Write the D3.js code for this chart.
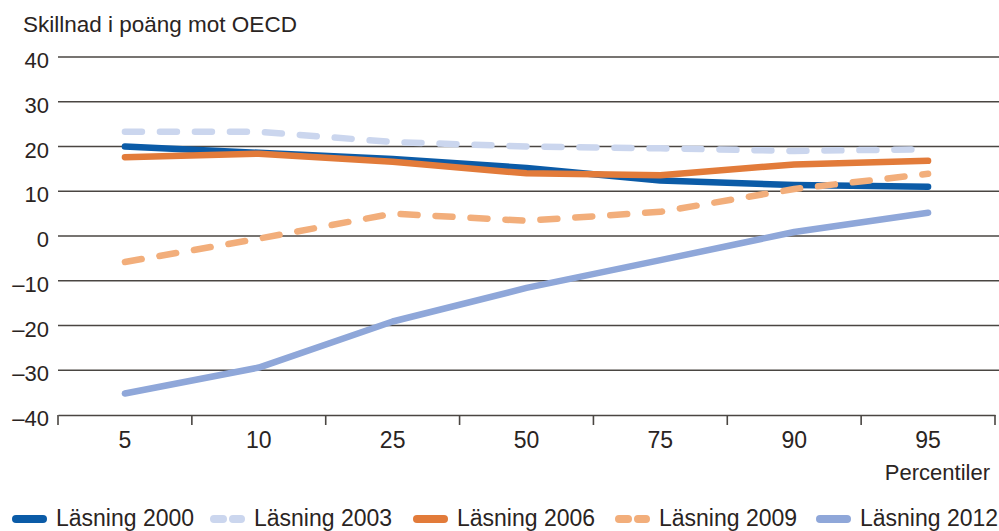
<!DOCTYPE html>
<html>
<head>
<meta charset="utf-8">
<script src="https://cdn.jsdelivr.net/npm/d3@7"></script>
<style>
	body { margin: 0; background: #fff; }
	svg { display: block; font-family: 'Liberation Sans', Arial, sans-serif; }
</style>
</head>
<body>
<svg width="999" height="531"></svg>
<script>
const percentiles = ['5', '10', '25', '50', '75', '90', '95'];
const yTicks = [40, 30, 20, 10, 0, -10, -20, -30, -40];

const las2000 = [20, 18.6, 17.2, 15.2, 12.4, 11.4, 11];
const las2003 = [23.3, 23.3, 21, 20, 19.6, 19, 19.4];
const las2006 = [17.6, 18.4, 16.6, 14, 13.6, 16, 16.8];
const las2009 = [-5.8, -0.6, 5, 3.4, 5.4, 10.5, 13.9];
const las2012 = [-35.2, -29.4, -19.1, -11.6, -5.4, 0.9, 5.2];

const series = [
	{ name: 'Läsning 2000', values: las2000, colour: '#0b5ba7', dashed: false },
	{ name: 'Läsning 2003', values: las2003, colour: '#cbd6ee', dashed: true },
	{ name: 'Läsning 2006', values: las2006, colour: '#e27b3a', dashed: false },
	{ name: 'Läsning 2009', values: las2009, colour: '#f2ae7b', dashed: true },
	{ name: 'Läsning 2012', values: las2012, colour: '#8fa7d9', dashed: false },
];

const svg = d3.select('svg');

const x = d3.scaleBand()
	.domain(percentiles)
	.range([58, 995]);

const y = d3.scaleLinear()
	.domain([-40, 40])
	.range([415, 57]);

const textColour = '#2a2422';

// gridlines
svg.append('g')
	.selectAll('line')
	.data(yTicks.filter(d => d != -40))
	.enter()
	.append('line')
	.attr('x1', 58)
	.attr('x2', 999)
	.attr('y1', d => y(d))
	.attr('y2', d => y(d))
	.attr('stroke', '#4a4642')
	.attr('stroke-width', 1.6);

// y labels
svg.append('g')
	.selectAll('text')
	.data(yTicks)
	.enter()
	.append('text')
	.text(d => d < 0 ? '\u2013' + Math.abs(d) : d)
	.attr('x', 49)
	.attr('y', d => y(d) + 11)
	.attr('text-anchor', 'end')
	.attr('font-size', 22)
	.attr('fill', textColour);

svg.append('text')
	.text('Skillnad i poäng mot OECD')
	.attr('x', 23)
	.attr('y', 32)
	.attr('font-size', 22.5)
	.attr('fill', textColour);

// x axis
const xAxis = svg.append('g')
	.attr('transform', `translate(0,${y(-40)})`)
	.call(d3.axisBottom(x).tickSize(0).tickPadding(17));
xAxis.select('.domain').attr('stroke', '#4a4642').attr('stroke-width', 1.6);
xAxis.selectAll('text')
	.attr('font-size', 23)
	.attr('font-family', 'Liberation Sans, Arial, sans-serif')
	.attr('fill', textColour);

xAxis.selectAll('.sep')
	.data(percentiles.concat(['end']))
	.enter()
	.append('line')
	.attr('class', 'sep')
	.attr('x1', (d, i) => x.range()[0] + i * x.bandwidth())
	.attr('x2', (d, i) => x.range()[0] + i * x.bandwidth())
	.attr('y1', 0)
	.attr('y2', 10)
	.attr('stroke', '#4a4642')
	.attr('stroke-width', 1.6);

svg.append('text')
	.text('Percentiler')
	.attr('x', 990)
	.attr('y', 480)
	.attr('text-anchor', 'end')
	.attr('font-size', 22)
	.attr('fill', textColour);

// lines
const line = d3.line()
	.x((d, i) => x(percentiles[i]) + x.bandwidth() / 2)
	.y(d => y(d));

svg.append('g')
	.selectAll('path')
	.data(series)
	.enter()
	.append('path')
	.attr('d', d => line(d.values))
	.attr('fill', 'none')
	.attr('stroke', d => d.colour)
	.attr('stroke-width', 6.5)
	.attr('stroke-linejoin', 'round')
	.attr('stroke-linecap', 'round')
	.attr('stroke-dasharray', d => d.dashed ? '17,18' : null);

// legend
const legendX = [12, 210, 413, 615, 816];
const legend = svg.append('g')
	.selectAll('g')
	.data(series)
	.enter()
	.append('g')
	.attr('transform', (d, i) => `translate(${legendX[i]},519)`);

legend.append('line')
	.attr('x1', 4)
	.attr('x2', 31)
	.attr('stroke', d => d.colour)
	.attr('stroke-width', 8)
	.attr('stroke-linecap', 'round')
	.attr('stroke-dasharray', d => d.dashed ? '9,10' : null);

legend.append('text')
	.text(d => d.name)
	.attr('x', 44)
	.attr('y', 7)
	.attr('font-size', 23)
	.attr('fill', textColour);
</script>
</body>
</html>
